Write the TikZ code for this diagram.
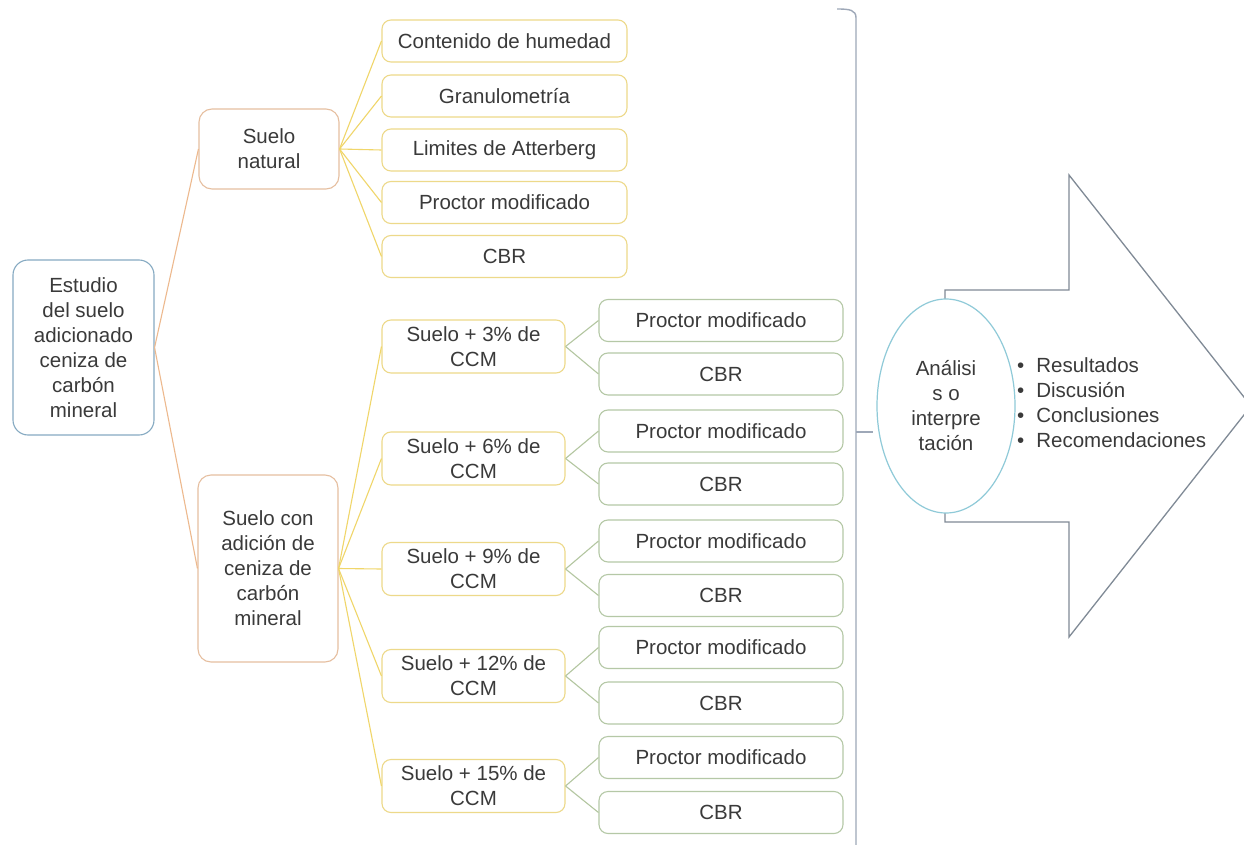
\documentclass[tikz,border=0pt]{standalone}
\usepackage{fontspec}
\setmainfont{Liberation Sans}
\usetikzlibrary{shapes.geometric}
\definecolor{txt}{HTML}{3A3A3A}
\definecolor{rootc}{HTML}{86AAC2}
\definecolor{orc}{HTML}{E6BFA0}
\definecolor{orl}{HTML}{EDB98E}
\definecolor{yec}{HTML}{EDD98A}
\definecolor{yel}{HTML}{F0D66A}
\definecolor{grc}{HTML}{B5C8A6}
\definecolor{grl}{HTML}{B3C6A0}
\definecolor{brc}{HTML}{9EA8B8}
\definecolor{arc}{HTML}{808A96}
\definecolor{elc}{HTML}{8FCAD8}
\begin{document}
\begin{tikzpicture}[x=1pt,y=-1pt,
  every node/.style={font=\fontsize{20.5}{25}\selectfont, text=txt, align=center, inner sep=0pt},
  box/.style={draw, rounded corners=9pt, line width=1.1pt, fill=white},
  rootbox/.style={box, draw=rootc, rounded corners=15pt, minimum width=141pt, minimum height=175pt},
  lvlone/.style={box, draw=orc, rounded corners=13pt, minimum width=140pt},
  yelbox/.style={box, draw=yec, minimum width=245pt, minimum height=42pt},
  ccmbox/.style={box, draw=yec, minimum width=183pt, minimum height=53pt},
  grnbox/.style={box, draw=grc, minimum width=244pt, minimum height=42pt},
  orline/.style={draw=orl, line width=1.1pt},
  yeline/.style={draw=yel, line width=1.1pt},
  grline/.style={draw=grl, line width=1.1pt},
  brkline/.style={draw=brc, line width=1.4pt},
  arrowline/.style={draw=arc, line width=1.3pt, fill=white},
  ellbox/.style={ellipse, draw=elc, line width=1.2pt, fill=white, minimum width=138pt, minimum height=214pt}
]
\useasboundingbox[fill=white] (0,0) rectangle (1244,845);

% root
\node[rootbox] (root) at (83.5,347.5) {Estudio\\del suelo\\adicionado\\ceniza de\\carbón\\mineral};

% level one
\node[lvlone, minimum height=80pt] (nat) at (269,149) {Suelo\\natural};
\node[lvlone, minimum height=187pt] (adi) at (268,568.5) {Suelo con\\adición de\\ceniza de\\carbón\\mineral};

% natural soil tests
\node[yelbox] (n1) at (504.5,41) {Contenido de humedad};
\node[yelbox] (n2) at (504.5,96) {Granulometría};
\node[yelbox] (n3) at (504.5,150) {Limites de Atterberg};
\node[yelbox] (n4) at (504.5,202.5) {Proctor modificado};
\node[yelbox] (n5) at (504.5,256.5) {CBR};

% CCM boxes
\node[ccmbox] (c1) at (473.5,346.5) {Suelo + 3\% de\\CCM};
\node[ccmbox] (c2) at (473.5,458.5) {Suelo + 6\% de\\CCM};
\node[ccmbox] (c3) at (473.5,569) {Suelo + 9\% de\\CCM};
\node[ccmbox] (c4) at (473.5,676) {Suelo + 12\% de\\CCM};
\node[ccmbox] (c5) at (473.5,786) {Suelo + 15\% de\\CCM};

% green tests
\node[grnbox] (p1) at (721,320.5) {Proctor modificado};
\node[grnbox] (b1) at (721,374) {CBR};
\node[grnbox] (p2) at (721,431) {Proctor modificado};
\node[grnbox] (b2) at (721,484) {CBR};
\node[grnbox] (p3) at (721,541) {Proctor modificado};
\node[grnbox] (b3) at (721,595.5) {CBR};
\node[grnbox] (p4) at (721,647.5) {Proctor modificado};
\node[grnbox] (b4) at (721,703) {CBR};
\node[grnbox] (p5) at (721,757.5) {Proctor modificado};
\node[grnbox] (b5) at (721,812.5) {CBR};

% connectors
\draw[orline] (root.east) -- (nat.west);
\draw[orline] (root.east) -- (adi.west);
\foreach \n in {n1,n2,n3,n4,n5} \draw[yeline] (nat.east) -- (\n.west);
\foreach \n in {c1,c2,c3,c4,c5} \draw[yeline] (adi.east) -- (\n.west);
\foreach \c/\p/\b in {c1/p1/b1,c2/p2/b2,c3/p3/b3,c4/p4/b4,c5/p5/b5} {
  \draw[grline] (\c.east) -- (\p.west);
  \draw[grline] (\c.east) -- (\b.west);
}

% bracket
\draw[brkline] (837,9) .. controls (850,9) and (856,10) .. (856,18) -- (856,845);
\coordinate (brkmid) at (856,432);
\coordinate (tickend) at (873,432);
\draw[brkline] (brkmid) -- (tickend);

% big arrow
\draw[arrowline] (945,290) -- (1069,290) -- (1069,175) -- (1251,406) -- (1069,637) -- (1069,522) -- (945,522) -- cycle;

% ellipse
\node[ellbox] (ana) at (946,406) {Análisi\\s o\\interpre\\tación};

% bullet list
\node[anchor=west, align=left] (res) at (1017,404.5) {\begin{tabular}{@{}l@{\hspace{12pt}}l@{}}
• & Resultados\\
• & Discusión\\
• & Conclusiones\\
• & Recomendaciones
\end{tabular}};
\end{tikzpicture}
\end{document}
